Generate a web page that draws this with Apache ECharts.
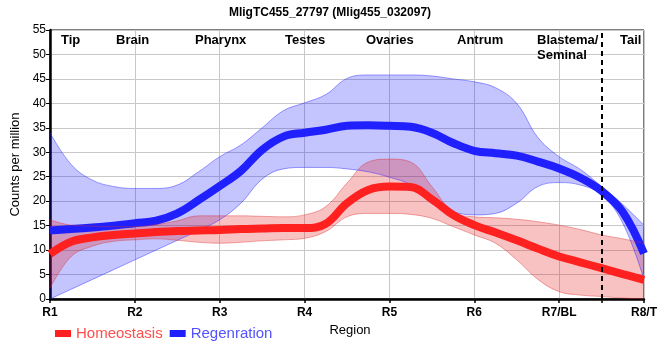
<!DOCTYPE html>
<html>
<head>
<meta charset="utf-8">
<script src="https://cdn.jsdelivr.net/npm/echarts@6/dist/echarts.min.js"></script>
<style>html,body{margin:0;padding:0;background:#fff}#c{width:660px;height:360px}</style>
</head>
<body>
<div id="c"></div>
<script>
var regionLabels = ['R1','R2','R3','R4','R5','R6','R7/BL','R8/T'];
var tissueLabels = ['Tip','Brain','Pharynx','Testes','Ovaries','Antrum','Blastema/\nSeminal','Tail'];
var dividerX = 6.5;
var xs = [0,0.25,0.5,0.75,1,1.25,1.5,1.75,2,2.25,2.5,2.75,3,3.25,3.5,3.75,4,4.25,4.5,4.75,5,5.25,5.5,5.75,6,6.25,6.5,6.75,7];

var regenMean  = [14.0,14.3,14.6,15.0,15.5,16.0,17.5,20.2,23.1,26.2,30.5,33.2,34.0,34.6,35.4,35.5,35.4,35.2,34.0,31.9,30.3,29.8,29.3,28.1,26.7,24.8,22.1,17.8,9.3];
var regenUpper = [34.0,27.5,24.3,23.0,22.6,22.6,23.3,26.0,29.1,31.5,35.0,38.5,40.1,41.8,45.1,45.8,45.8,45.8,45.6,45.0,44.4,43.2,40.0,33.0,29.1,26.5,23.0,19.3,15.1];
var regenLower = [0.0,2.0,4.0,6.0,8.0,10.0,12.0,14.0,16.2,19.6,24.5,26.6,26.9,26.9,26.6,26.0,24.9,23.3,19.5,17.8,17.2,17.5,19.6,23.0,23.8,23.3,21.3,15.5,4.0];

var homeoMean  = [9.2,11.7,12.6,13.1,13.4,13.7,13.9,14.0,14.1,14.3,14.4,14.5,14.5,15.4,19.6,22.3,23.0,22.9,20.4,17.2,15.1,13.6,12.0,10.3,8.7,7.5,6.3,5.1,3.9];
var homeoUpper = [16.2,15.1,14.9,14.8,14.8,15.2,16.0,17.0,17.0,17.0,16.9,16.8,17.2,18.9,23.7,28.0,28.6,28.0,23.0,17.8,16.8,16.6,16.3,15.8,15.1,14.2,13.1,12.3,11.4];
var homeoLower = [2.2,8.7,10.8,11.8,12.1,12.3,12.0,11.6,11.4,11.6,11.9,12.1,12.4,13.8,16.8,17.5,17.5,17.3,16.5,14.8,13.1,11.4,8.0,4.0,1.5,0.8,0.5,0.2,0.0];

var cats = xs.map(function(x){ return String(x); });
function isMajor(i){ return xs[i] === Math.round(xs[i]); }
function isTick(i){ return isMajor(i) || xs[i] === dividerX; }
function diff(up, lo){ return up.map(function(u,i){ return +(u - lo[i]).toFixed(2); }); }

var chart = echarts.init(document.getElementById('c'), null, {renderer:'canvas'});
var blueEdge = 'rgba(40,40,255,0.45)';
var redEdge = 'rgba(220,40,40,0.4)';
var tissueX = [61, 116, 195, 285, 366, 457, 537, 620];
var FONT = '"Liberation Sans", Arial, sans-serif';

var graphics = tissueLabels.map(function(t,i){
  return {type:'text', left: tissueX[i], top: 33, z: 100,
    style:{text:t, font:'bold 13px ' + FONT, fill:'#000', lineHeight:15}};
});

var option = {
  animation:false,
  title:{text:'MligTC455_27797 (Mlig455_032097)', left:'center', top:2,
    textStyle:{fontSize:12, fontWeight:'bold', color:'#000', fontFamily:FONT}},
  grid:{left:50, right:10, top:30, bottom:61, show:true, borderColor:'#000', borderWidth:1},
  legend:{left:50, top:321, itemWidth:16, itemHeight:7, itemGap:7, icon:'rect',
    data:[{name:'Homeostasis', textStyle:{color:'#ff4d4d'}},{name:'Regenration', textStyle:{color:'#5252ff'}}],
    textStyle:{fontSize:15, fontFamily:FONT}},
  graphic: graphics,
  xAxis:{type:'category', data:cats, boundaryGap:false,
    name:'Region', nameLocation:'middle', nameGap:25,
    nameTextStyle:{fontSize:13, color:'#000', fontFamily:FONT, padding:[0,0,0,6]},
    axisLine:{lineStyle:{color:'#000', width:2.5}},
    axisTick:{show:true, length:4, interval:function(i){ return isTick(i); }, lineStyle:{color:'#000', width:1.5}},
    axisLabel:{fontSize:12, fontWeight:'bold', color:'#000', margin:8, fontFamily:FONT,
      interval:function(i){ return isMajor(i); },
      formatter:function(v){ return regionLabels[Math.round(parseFloat(v))] || ''; }},
    splitLine:{show:true, interval:function(i){ return isMajor(i); }, lineStyle:{color:'#c8c8c8', width:1}}},
  yAxis:{type:'value', min:0, max:55, interval:5,
    name:'Counts per million', nameLocation:'middle', nameGap:24,
    nameTextStyle:{fontSize:13, color:'#000', fontFamily:FONT},
    axisLine:{show:true, lineStyle:{color:'#000', width:2.5}},
    axisTick:{show:true, length:4, lineStyle:{color:'#000', width:1}},
    axisLabel:{fontSize:12, color:'#000', margin:4, fontFamily:FONT},
    splitLine:{show:true, lineStyle:{color:'#c8c8c8', width:1}}},
  series:[
    {name:'regenLower', type:'line', stack:'blue', data:regenLower, smooth:0.4, symbol:'none',
      lineStyle:{color:blueEdge, width:1}},
    {name:'regenBand', type:'line', stack:'blue', data:diff(regenUpper, regenLower), smooth:0.4, symbol:'none',
      lineStyle:{color:blueEdge, width:1}, areaStyle:{color:'rgba(10,10,250,0.34)'}},
    {name:'Regenration', type:'line', data:regenMean, smooth:0.4, symbol:'none',
      itemStyle:{color:'#2020ff'}, lineStyle:{color:'#2020ff', width:8}},
    {name:'homeoLower', type:'line', stack:'red', data:homeoLower, smooth:0.4, symbol:'none',
      lineStyle:{color:redEdge, width:1}},
    {name:'homeoBand', type:'line', stack:'red', data:diff(homeoUpper, homeoLower), smooth:0.4, symbol:'none',
      lineStyle:{color:redEdge, width:1}, areaStyle:{color:'rgba(228,20,20,0.37)'}},
    {name:'Homeostasis', type:'line', data:homeoMean, smooth:0.4, symbol:'none',
      itemStyle:{color:'#ff2020'}, lineStyle:{color:'#ff2020', width:8},
      markLine:{silent:true, symbol:'none', label:{show:false},
        lineStyle:{color:'#000', width:2, type:[5,4]},
        data:[{xAxis:String(dividerX)}]}}
  ]
};
chart.setOption(option);
</script>
</body>
</html>
